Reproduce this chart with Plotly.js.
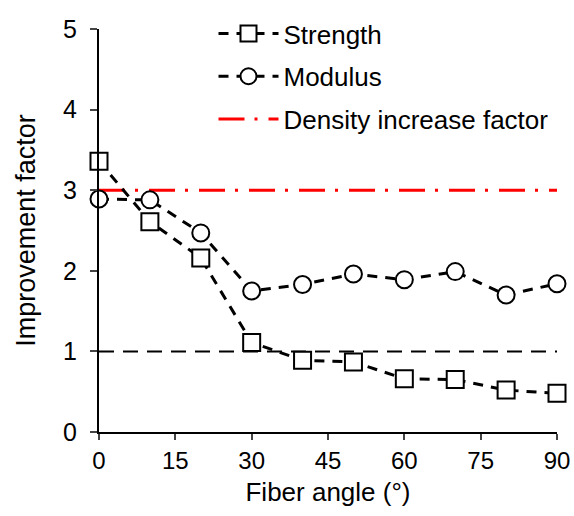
<!DOCTYPE html>
<html>
<head>
<meta charset="utf-8">
<script src="https://cdn.plot.ly/plotly-3.0.1.min.js"></script>
<style>html,body{margin:0;padding:0;background:#fff;}#chart{width:574px;height:516px;}</style>
</head>
<body>
<div id="chart"></div>
<script>
const angles = [0, 10, 20, 30, 40, 50, 60, 70, 80, 90];
const strength = [3.36, 2.61, 2.16, 1.11, 0.89, 0.87, 0.66, 0.65, 0.52, 0.48];
const modulus = [2.89, 2.88, 2.47, 1.75, 1.83, 1.96, 1.89, 1.99, 1.70, 1.84];
const refX = [0, 90];
const baseline = [1, 1];
const density = [3, 3];
const xTicks = [0, 15, 30, 45, 60, 75, 90];
const yTicks = [0, 1, 2, 3, 4, 5];

const font = 'Liberation Sans, Arial, sans-serif';

const traces = [
  {x: refX, y: baseline, mode: 'lines', showlegend: false, hoverinfo: 'skip',
   line: {color: '#000', width: 2, dash: '15px,9px'}},
  {x: refX, y: density, mode: 'lines', name: 'Density increase factor', legendgroup: 'c', legendrank: 3,
   line: {color: '#ff0000', width: 3, dash: '26px,10px,3px,11px'}},
  {x: angles, y: strength, mode: 'lines+markers', name: 'Strength', legendgroup: 'a', legendrank: 1,
   line: {color: '#000', width: 3, dash: '10px,8px'},
   marker: {symbol: 'square', size: 17, color: '#fff', line: {width: 2, color: '#000'}},
   cliponaxis: false},
  {x: angles, y: modulus, mode: 'lines+markers', name: 'Modulus', legendgroup: 'b', legendrank: 2,
   line: {color: '#000', width: 3, dash: '10px,8px'},
   marker: {symbol: 'circle', size: 17, color: '#fff', line: {width: 2, color: '#000'}},
   cliponaxis: false}
];

const layout = {
  width: 574, height: 516,
  margin: {l: 99, r: 17, t: 29, b: 84, autoexpand: false},
  paper_bgcolor: '#fff', plot_bgcolor: '#fff',
  font: {family: font, size: 24, color: '#000'},
  showlegend: true,
  legend: {x: 0.25, y: 1.047, xanchor: 'left', yanchor: 'top', bgcolor: 'rgba(0,0,0,0)',
           font: {family: font, size: 26, color: '#000'}, tracegroupgap: 6, itemwidth: 60,
           traceorder: 'grouped'},
  xaxis: {range: [0, 90], tickvals: xTicks, ticks: 'outside', ticklen: 6, tickwidth: 2,
          showline: true, linewidth: 2, linecolor: '#000', showgrid: false, zeroline: false,
          tickfont: {family: font, size: 24}, fixedrange: true,
          title: {text: 'Fiber angle (°)', font: {family: font, size: 26}, standoff: 10}},
  yaxis: {range: [0, 5], tickvals: yTicks, ticks: 'outside', ticklen: 7, tickwidth: 2,
          ticklabelstandoff: 8,
          showline: true, linewidth: 2, linecolor: '#000', showgrid: false, zeroline: false,
          tickfont: {family: font, size: 25}, fixedrange: true,
          title: {text: 'Improvement factor', font: {family: font, size: 27}, standoff: 20}}
};

Plotly.newPlot('chart', traces, layout, {displayModeBar: false, staticPlot: true});
</script>
</body>
</html>
